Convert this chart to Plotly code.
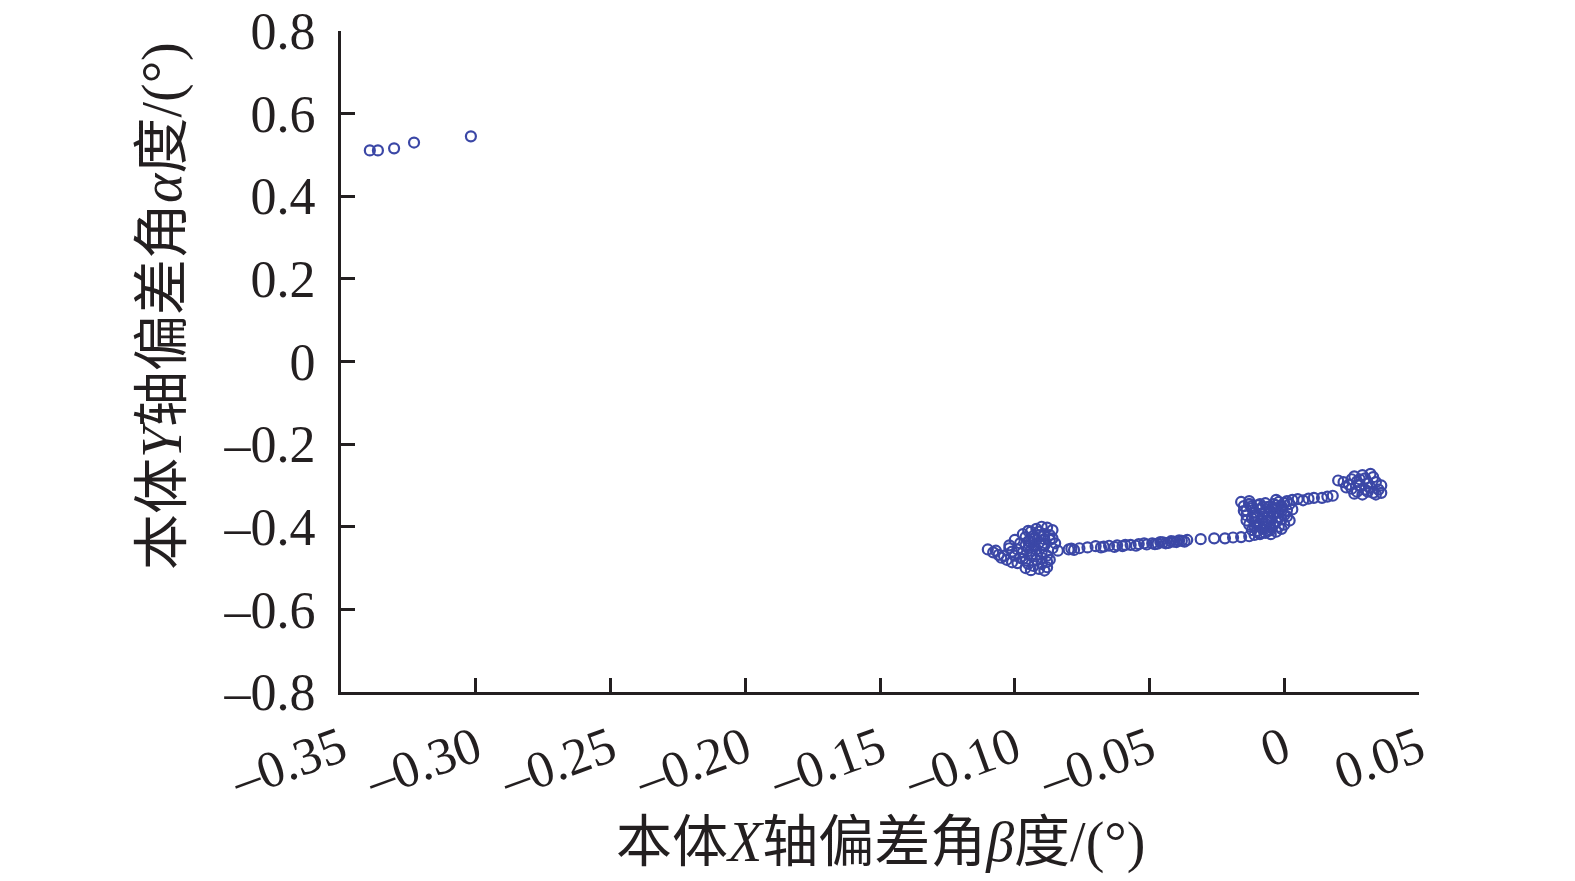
import plotly.graph_objects as go

# beta (x) and alpha (y) deviation angles, in degrees
beta = [
    -0.3393, -0.3363, -0.3303, -0.3229, -0.3018,
    # cluster near -0.095
    -0.110, -0.108, -0.106, -0.105, -0.103, -0.101, -0.104, -0.107, -0.099, -0.097,
    -0.098, -0.096, -0.094, -0.092, -0.090, -0.088, -0.086, -0.087, -0.089, -0.091,
    -0.093, -0.095, -0.097, -0.094, -0.092, -0.090, -0.088, -0.089, -0.091, -0.093,
    -0.095, -0.096, -0.098, -0.100, -0.101, -0.102, -0.100, -0.096, -0.092, -0.090,
    -0.088, -0.087, -0.086, -0.085, -0.086, -0.084, -0.089, -0.091, -0.093, -0.095,
    -0.092, -0.094, -0.090, -0.088, -0.096, -0.094,
    -0.097, -0.095, -0.093, -0.091, -0.089, -0.087, -0.099, -0.102, -0.090, -0.094,
    # drift line
    -0.080, -0.078, -0.076, -0.073, -0.070, -0.067, -0.065, -0.062, -0.060, -0.057,
    -0.054, -0.051, -0.049, -0.047, -0.045, -0.043, -0.041, -0.040, -0.038, -0.036,
    -0.031, -0.026, -0.022, -0.019,
    -0.079, -0.068, -0.063, -0.059, -0.055, -0.052, -0.048, -0.046, -0.044, -0.042,
    -0.039, -0.037,
    # cluster near -0.008
    -0.016, -0.013, -0.011, -0.009, -0.007, -0.005, -0.003, -0.001, 0.000,
    -0.015, -0.014, -0.013, -0.012, -0.011, -0.010, -0.009, -0.008, -0.007, -0.006,
    -0.005, -0.004, -0.003, -0.002, -0.001, 0.000, 0.001, 0.002, -0.014, -0.012,
    -0.010, -0.008, -0.006, -0.004, -0.002, 0.000, -0.011, -0.009, -0.007, -0.005,
    -0.003, -0.001, 0.001, -0.013, -0.008, -0.006, -0.004, -0.002, 0.002, -0.010,
    -0.012, -0.016, -0.003, 0.003, 0.001,
    -0.015, -0.013, -0.011, -0.009, -0.007, -0.005, -0.003, -0.001, -0.014, -0.012,
    -0.010, -0.008, -0.006, -0.004, -0.002, -0.009, -0.007, -0.005, -0.011, -0.013,
    0.003, 0.005, 0.007, 0.009, 0.011, 0.014, 0.016, 0.018,
    # cluster near 0.03
    0.020, 0.022, 0.024, 0.025, 0.026, 0.027, 0.028, 0.029, 0.030, 0.031,
    0.032, 0.033, 0.034, 0.035, 0.036, 0.033, 0.031, 0.029, 0.027, 0.025,
    0.023, 0.030, 0.034, 0.036, 0.028, 0.032, 0.026,
]
alpha = [
    0.511, 0.511, 0.516, 0.530, 0.545,
    -0.455, -0.462, -0.468, -0.475, -0.480, -0.486, -0.470, -0.458, -0.488, -0.478,
    -0.440, -0.425, -0.412, -0.405, -0.400, -0.402, -0.408, -0.420, -0.430, -0.438,
    -0.445, -0.452, -0.462, -0.470, -0.480, -0.490, -0.498, -0.506, -0.502, -0.495,
    -0.490, -0.482, -0.475, -0.470, -0.460, -0.445, -0.432, -0.445, -0.455, -0.462,
    -0.470, -0.480, -0.452, -0.440, -0.428, -0.458, -0.445, -0.420, -0.428, -0.435,
    -0.468, -0.458, -0.475, -0.485, -0.500, -0.505,
    -0.418, -0.410, -0.422, -0.412, -0.418, -0.432, -0.455, -0.452, -0.445, -0.438,
    -0.455, -0.456, -0.452, -0.450, -0.447, -0.448, -0.446, -0.445, -0.447, -0.444,
    -0.442, -0.443, -0.440, -0.441, -0.438, -0.439, -0.436, -0.437, -0.434, -0.432,
    -0.430, -0.428, -0.428, -0.426,
    -0.453, -0.450, -0.449, -0.444, -0.446, -0.440, -0.442, -0.437, -0.440, -0.435,
    -0.433, -0.436,
    -0.425, -0.423, -0.420, -0.418, -0.415, -0.418, -0.412, -0.405, -0.395,
    -0.350, -0.360, -0.345, -0.355, -0.365, -0.348, -0.358, -0.370, -0.343, -0.352,
    -0.362, -0.345, -0.355, -0.340, -0.350, -0.342, -0.338, -0.345, -0.372, -0.380,
    -0.375, -0.385, -0.378, -0.370, -0.365, -0.372, -0.390, -0.398, -0.392, -0.402,
    -0.388, -0.382, -0.360, -0.395, -0.405, -0.410, -0.395, -0.400, -0.385, -0.410,
    -0.408, -0.340, -0.335, -0.358, -0.375,
    -0.362, -0.338, -0.378, -0.345, -0.362, -0.380, -0.348, -0.362, -0.385, -0.350,
    -0.395, -0.352, -0.388, -0.355, -0.378, -0.415, -0.400, -0.408, -0.400, -0.345,
    -0.335, -0.333, -0.336, -0.332, -0.330, -0.330, -0.327, -0.325,
    -0.288, -0.292, -0.298, -0.285, -0.278, -0.290, -0.300, -0.275, -0.283, -0.295,
    -0.305, -0.280, -0.292, -0.310, -0.300, -0.318, -0.315, -0.322, -0.315, -0.308,
    -0.305, -0.310, -0.322, -0.318, -0.285, -0.272, -0.320,
]

x_ticks = [-0.35, -0.30, -0.25, -0.20, -0.15, -0.10, -0.05, 0, 0.05]
x_labels = ["\u20130.35", "\u20130.30", "\u20130.25", "\u20130.20", "\u20130.15",
            "\u20130.10", "\u20130.05", "0", "0.05"]
y_ticks = [0.8, 0.6, 0.4, 0.2, 0, -0.2, -0.4, -0.6, -0.8]
y_labels = ["0.8", "0.6", "0.4", "0.2", "0", "\u20130.2", "\u20130.4", "\u20130.6", "\u20130.8"]

font = "Liberation Serif, Noto Sans CJK SC"
axis_col = "#231f20"

fig = go.Figure(go.Scatter(
    x=beta, y=alpha, mode="markers",
    marker=dict(symbol="circle-open", size=10, color="#3b47a6", line=dict(width=2.2)),
    showlegend=False,
))

fig.update_xaxes(range=[-0.35, 0.05], tickvals=x_ticks, ticktext=x_labels, tickangle=-20,
                 ticks="inside", ticklen=14, tickwidth=2.5, tickcolor=axis_col,
                 showline=True, linewidth=3, linecolor=axis_col, showgrid=False,
                 zeroline=False, automargin=False, ticklabelstandoff=3,
                 ticklabeloverflow="allow", tickfont=dict(size=52, color=axis_col))
fig.update_yaxes(range=[-0.8, 0.8], tickvals=y_ticks, ticktext=y_labels,
                 ticks="inside", ticklen=14, tickwidth=2.5, tickcolor=axis_col,
                 showline=True, linewidth=3, linecolor=axis_col, showgrid=False,
                 zeroline=False, automargin=False, ticklabelstandoff=12,
                 ticklabeloverflow="allow", tickfont=dict(size=52, color=axis_col))

fig.add_annotation(text="本体<i>X</i>轴偏差角<i>β</i>度/(°)", xref="paper", yref="paper",
                   x=0.5, y=-0.228, xanchor="center", yanchor="middle", showarrow=False,
                   font=dict(size=56, color=axis_col))
fig.add_annotation(text="本体<i>Y</i>轴偏差角<i>α</i>度/(°)", xref="paper", yref="paper",
                   x=-0.165, y=0.584, xanchor="center", yanchor="middle", textangle=-90,
                   showarrow=False, font=dict(size=56, color=axis_col))

fig.update_layout(width=1575, height=881, margin=dict(l=333, r=164, t=23, b=197),
                  plot_bgcolor="white", paper_bgcolor="white",
                  font=dict(family=font, color=axis_col))

fig.write_html("out.html")
